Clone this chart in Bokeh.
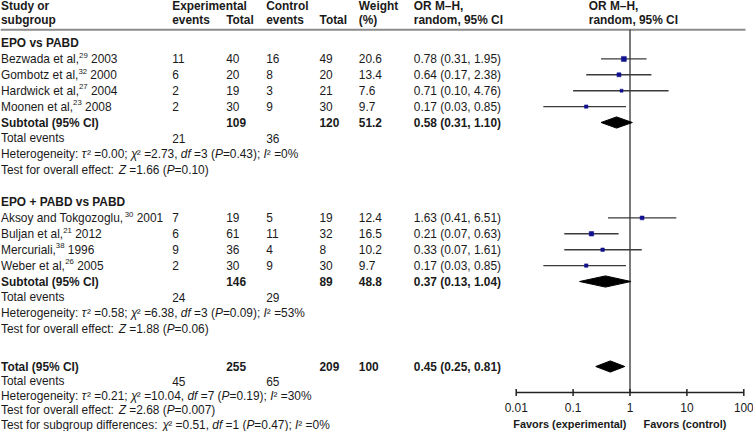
import math
from bokeh.plotting import figure
from bokeh.models import Range1d, LogScale, ColumnDataSource
from bokeh.core.properties import value
from bokeh.embed import file_html
from bokeh.resources import INLINE

# ---------------- data ----------------
group_titles = ["EPO vs PABD", "EPO + PABD vs PABD"]
study_names = ["Bezwada et al,", "Gombotz et al,", "Hardwick et al,", "Moonen et al,",
               "Aksoy and Tokgozoglu,", "Buljan et al,", "Mercuriali,", "Weber et al,"]
study_refs = ["29", "32", "27", "23", "30", "21", "38", "26"]
study_years = ["2003", "2000", "2004", "2008", "2001", "2012", "1996", "2005"]
study_group = [0, 0, 0, 0, 1, 1, 1, 1]
exp_events = [11, 6, 2, 2, 7, 6, 9, 2]
exp_total = [40, 20, 19, 30, 19, 61, 36, 30]
ctrl_events = [16, 8, 3, 9, 5, 11, 4, 9]
ctrl_total = [49, 20, 21, 30, 19, 32, 8, 30]
weight = [20.6, 13.4, 7.6, 9.7, 12.4, 16.5, 10.2, 9.7]
or_est = [0.78, 0.64, 0.71, 0.17, 1.63, 0.21, 0.33, 0.17]
or_lo = [0.31, 0.17, 0.10, 0.03, 0.41, 0.07, 0.07, 0.03]
or_hi = [1.95, 2.38, 4.76, 0.85, 6.51, 0.63, 1.61, 0.85]

# subgroup summaries, then overall (index 2)
sum_exp_total = [109, 146, 255]
sum_ctrl_total = [120, 89, 209]
sum_weight = [51.2, 48.8, 100]
sum_est = [0.58, 0.37, 0.45]
sum_lo = [0.31, 0.13, 0.25]
sum_hi = [1.10, 1.04, 0.81]
sum_exp_events = [21, 24, 45]
sum_ctrl_events = [36, 29, 65]
het_tau2 = [0.00, 0.58, 0.21]
het_chi2 = [2.73, 6.38, 10.04]
het_df = [3, 3, 7]
het_p = [0.43, 0.09, 0.19]
het_i2 = [0, 53, 30]
eff_z = [1.66, 1.88, 2.68]
eff_p = [0.10, 0.06, 0.007]
subgrp_chi2, subgrp_df, subgrp_p, subgrp_i2 = 0.51, 1, 0.47, 0

axis_ticks = [0.01, 0.1, 1, 10, 100]
axis_tick_labels = ["0.01", "0.1", "1", "10", "100"]
favors_left = "Favors (experimental)"
favors_right = "Favors (control)"

# ---------------- layout ----------------
W, H = 753, 431
FS_REF = 11.9
FS = "%.2fpx" % FS_REF
SUP_FS_REF = 7.8
SUP_FS = "%.2fpx" % SUP_FS_REF
FAV_FS = "10.9px"
FONT = "Liberation Sans"
TXT = "#1a1a1a"

COL_NAME, COL_EE, COL_ET, COL_CE, COL_CT, COL_W, COL_OR, COL_HDR2 = 0.5, 171.7, 225.7, 265.7, 319, 358.3, 413.3, 588.3
AX_L, AX_R, AX_Y = 515.7, 743.3, 392.0


def row_y(r):
    return 42.5 + 15.9 * r if r < 20 else 366.0 + 14.55 * (r - 20)


AW = {' ': 278, '!': 278, '%': 889, '(': 333, ')': 333, ',': 278, '-': 333, '.': 278, ':': 278, ';': 278,
      '=': 584, '+': 584, '0': 556, '1': 556, '2': 556, '3': 556, '4': 556, '5': 556, '6': 556, '7': 556,
      '8': 556, '9': 556, 'A': 667, 'B': 667, 'C': 722, 'D': 722, 'E': 667, 'F': 611, 'G': 778, 'H': 722,
      'I': 278, 'J': 500, 'K': 667, 'L': 556, 'M': 833, 'N': 722, 'O': 778, 'P': 667, 'Q': 778, 'R': 722,
      'S': 667, 'T': 611, 'U': 722, 'V': 667, 'W': 944, 'X': 667, 'Y': 667, 'Z': 611, 'a': 556, 'b': 556,
      'c': 500, 'd': 556, 'e': 556, 'f': 278, 'g': 556, 'h': 556, 'i': 222, 'j': 222, 'k': 500, 'l': 222,
      'm': 833, 'n': 556, 'o': 556, 'p': 556, 'q': 556, 'r': 333, 's': 500, 't': 278, 'u': 556, 'v': 500,
      'w': 722, 'x': 500, 'y': 500, 'z': 500, '\u03c4': 440, '\u03c7': 500, '\u00b2': 333}


def tw(s, fs=FS_REF):
    return sum(AW.get(c, 556) for c in s) / 1000.0 * fs


groups = {}


def add(key, x, y, s):
    g = groups.setdefault(key, dict(x=[], y=[], text=[]))
    g["x"].append(x)
    g["y"].append(y)
    g["text"].append(s)


def seg_line(x0, y, segs):
    x = x0
    for s, st in segs:
        fs = SUP_FS_REF if st == "sup" else FS_REF
        lead = len(s) - len(s.lstrip(" "))
        x += tw(" " * lead, fs)
        body = s.strip(" ")
        if body:
            if st == "sup":
                add(("sup", "left"), x, y - 3.8, body)
            else:
                add((st, "left"), x, y, body)
        x += tw(s.lstrip(" "), fs)


def f2(v):
    return "%.2f" % v


def fp(v):
    return "%.3f" % v if v < 0.01 else "%.2f" % v


def het_segs(i):
    return [("Heterogeneity: ", "normal"), ("\u03c4", "italic"), ("\u00b2 =%s; " % f2(het_tau2[i]), "normal"),
            ("\u03c7", "italic"), ("\u00b2 =%s, " % f2(het_chi2[i]), "normal"), ("df", "italic"),
            (" =%d (" % het_df[i], "normal"), ("P", "italic"), ("=%s); " % fp(het_p[i]), "normal"),
            ("I", "italic"), ("\u00b2 =%d%%" % het_i2[i], "normal")]


def eff_segs(i):
    return [("Test for overall effect: ", "normal"), ("Z", "italic"), (" =%s (" % f2(eff_z[i]), "normal"),
            ("P", "italic"), ("=%s)" % fp(eff_p[i]), "normal")]


# header
Y_H1, Y_H2 = 5.5, 19.5
add(("bold", "left"), COL_NAME, Y_H1, "Study or")
add(("bold", "left"), COL_NAME, Y_H2, "subgroup")
add(("bold", "left"), COL_EE, Y_H1, "Experimental")
add(("bold", "left"), COL_EE, Y_H2, "events")
add(("bold", "left"), COL_ET, Y_H2, "Total")
add(("bold", "left"), COL_CE, Y_H1, "Control")
add(("bold", "left"), COL_CE, Y_H2, "events")
add(("bold", "left"), COL_CT, Y_H2, "Total")
add(("bold", "left"), COL_W, Y_H1, "Weight")
add(("bold", "left"), COL_W, Y_H2, "(%)")
for cx in (COL_OR, COL_HDR2):
    add(("bold", "left"), cx, Y_H1, "OR M\u2013H,")
    add(("bold", "left"), cx, Y_H2, "random, 95% CI")

# rows
study_rows = []
sum_rows = []
for gi, title in enumerate(group_titles):
    base = 10 * gi
    add(("bold", "left"), COL_NAME, row_y(base), title)
    idx = [k for k in range(len(study_names)) if study_group[k] == gi]
    for j, k in enumerate(idx):
        y = row_y(base + 1 + j)
        study_rows.append(y)
        seg_line(COL_NAME, y, [(study_names[k], "normal"), (study_refs[k], "sup"),
                               (" " + study_years[k], "normal")])
        add(("normal", "left"), COL_EE, y, str(exp_events[k]))
        add(("normal", "left"), COL_ET, y, str(exp_total[k]))
        add(("normal", "left"), COL_CE, y, str(ctrl_events[k]))
        add(("normal", "left"), COL_CT, y, str(ctrl_total[k]))
        add(("normal", "left"), COL_W, y, "%.1f" % weight[k])
        add(("normal", "left"), COL_OR, y, "%s (%s, %s)" % (f2(or_est[k]), f2(or_lo[k]), f2(or_hi[k])))
    r0 = base + 1 + len(idx)
    sum_rows.append(row_y(r0))
    add(("bold", "left"), COL_NAME, row_y(r0), "Subtotal (95% CI)")
    add(("normal", "left"), COL_NAME, row_y(r0 + 1), "Total events")
    add(("normal", "left"), COL_EE, row_y(r0 + 1), str(sum_exp_events[gi]))
    add(("normal", "left"), COL_CE, row_y(r0 + 1), str(sum_ctrl_events[gi]))
    seg_line(COL_NAME, row_y(r0 + 2), het_segs(gi))
    seg_line(COL_NAME, row_y(r0 + 3), eff_segs(gi))

# overall
r0 = 20
sum_rows.append(row_y(r0))
add(("bold", "left"), COL_NAME, row_y(r0), "Total (95% CI)")
add(("normal", "left"), COL_NAME, row_y(r0 + 1), "Total events")
add(("normal", "left"), COL_EE, row_y(r0 + 1), str(sum_exp_events[2]))
add(("normal", "left"), COL_CE, row_y(r0 + 1), str(sum_ctrl_events[2]))
seg_line(COL_NAME, row_y(r0 + 2), het_segs(2))
seg_line(COL_NAME, row_y(r0 + 3), eff_segs(2))
seg_line(COL_NAME, row_y(r0 + 4),
         [("Test for subgroup differences: ", "normal"), ("\u03c7", "italic"),
          ("\u00b2 =%s, " % f2(subgrp_chi2), "normal"), ("df", "italic"), (" =%d (" % subgrp_df, "normal"),
          ("P", "italic"), ("=%s); " % fp(subgrp_p), "normal"), ("I", "italic"),
          ("\u00b2 =%d%%" % subgrp_i2, "normal")])

for i, y in enumerate(sum_rows):
    add(("bold", "left"), COL_ET, y, str(sum_exp_total[i]))
    add(("bold", "left"), COL_CT, y, str(sum_ctrl_total[i]))
    add(("bold", "left"), COL_W, y, ("%.1f" % sum_weight[i]) if sum_weight[i] < 100 else "%d" % sum_weight[i])
    add(("bold", "left"), COL_OR, y, "%s (%s, %s)" % (f2(sum_est[i]), f2(sum_lo[i]), f2(sum_hi[i])))

# favors labels
add(("fav", "right"), 626, 423.5, favors_left)
add(("fav", "left"), 643, 423.5, favors_right)

# ---------------- figure ----------------
p = figure(width=W, height=H, x_range=Range1d(0, W), y_range=Range1d(H, 0),
           output_backend="svg", toolbar_location=None, x_axis_location=None, y_axis_location=None,
           min_border=0)
p.grid.visible = False
p.outline_line_color = None
p.background_fill_color = "white"
p.border_fill_color = "white"

dec = (AX_R - AX_L) / 4.0
lo_exp = math.log10(axis_ticks[0])
hi_exp = math.log10(axis_ticks[-1])
p.extra_x_ranges = {"or": Range1d(start=10 ** (lo_exp - AX_L / dec), end=10 ** (hi_exp + (W - AX_R) / dec))}
p.extra_x_scales = {"or": LogScale()}

# header rule
p.segment(x0=[0], y0=[29.3], x1=[745], y1=[29.3], line_color="#8c8c8c", line_width=2)

# null line
p.segment(x0=[1], y0=[29.3], x1=[1], y1=[AX_Y], x_range_name="or", line_color="#333333", line_width=1.3)

# CI lines and squares
p.segment(x0=or_lo, y0=study_rows, x1=or_hi, y1=study_rows, x_range_name="or",
          line_color="#3a3a3a", line_width=1.4)
p.scatter(x=or_est, y=study_rows, marker="square", size=[1.1 * math.sqrt(w) for w in weight],
          x_range_name="or", fill_color="#11118f", line_color="#11118f", line_width=0.5)

# diamonds
dh = 5.6
xs = [[lo, e, hi, e] for lo, e, hi in zip(sum_lo, sum_est, sum_hi)]
ys = [[y, y - dh, y, y + dh] for y in sum_rows]
p.patches(xs=xs, ys=ys, x_range_name="or", fill_color="black", line_color="black", line_width=1)

# axis
p.segment(x0=[axis_ticks[0]], y0=[AX_Y], x1=[axis_ticks[-1]], y1=[AX_Y], x_range_name="or",
          line_color="#222222", line_width=1.5)
p.segment(x0=axis_ticks, y0=[AX_Y - 3.6] * len(axis_ticks), x1=axis_ticks, y1=[AX_Y + 3.6] * len(axis_ticks),
          x_range_name="or", line_color="#222222", line_width=1.5)
p.text(x=axis_ticks, y=[406.5] * len(axis_ticks), text=axis_tick_labels, x_range_name="or",
       text_font=value(FONT), text_font_size=FS, text_color=TXT, text_align="center", text_baseline="middle")

# texts
for (style, align), g in groups.items():
    src = ColumnDataSource(g)
    if style == "sup":
        p.text(x="x", y="y", text="text", source=src, text_font=value(FONT), text_font_size=SUP_FS,
               text_color=TXT, text_align=align, text_baseline="middle")
    elif style == "fav":
        p.text(x="x", y="y", text="text", source=src, text_font=value(FONT), text_font_size=FAV_FS,
               text_font_style="bold", text_color=TXT, text_align=align, text_baseline="middle")
    else:
        p.text(x="x", y="y", text="text", source=src, text_font=value(FONT), text_font_size=FS,
               text_font_style=style, text_color=TXT, text_align=align, text_baseline="middle")

open("out.html", "w").write(file_html(p, INLINE))
